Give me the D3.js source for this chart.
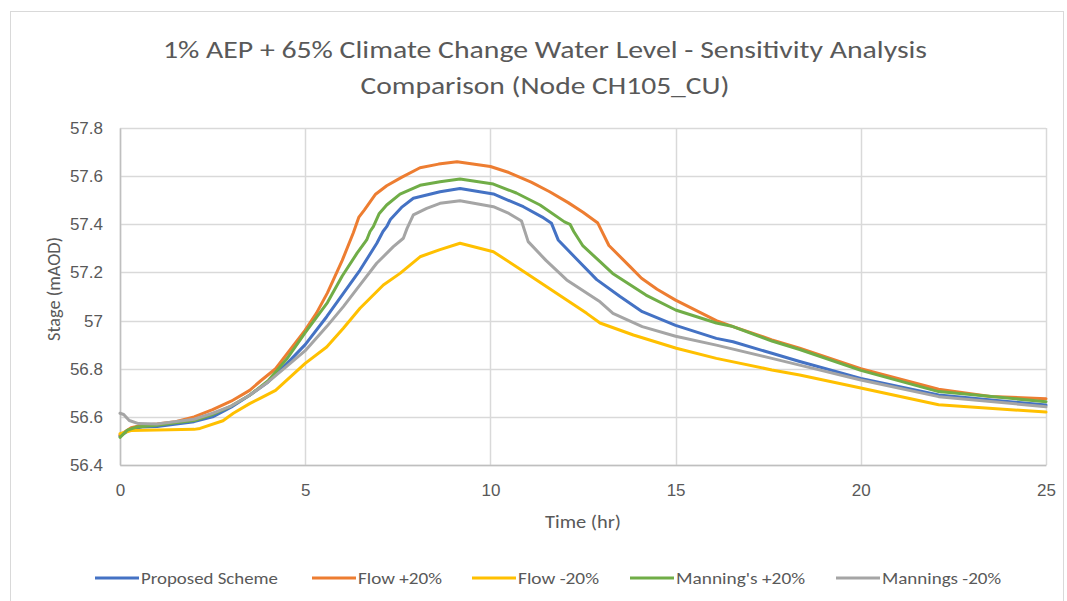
<!DOCTYPE html>
<html>
<head>
<meta charset="utf-8">
<script src="https://cdn.jsdelivr.net/npm/d3@7/dist/d3.min.js"></script>
<style>
  html, body { margin: 0; padding: 0; background: #fff; }
  svg { display: block; font-family: Carlito, Calibri, Lato, "Liberation Sans", sans-serif; }
</style>
</head>
<body>
<svg id="chart" width="1067" height="601"></svg>
<script>
// Stage hydrographs at node CH105_CU, 1% AEP + 65% climate change event.
const titleLines = ["1% AEP + 65% Climate Change Water Level - Sensitivity Analysis", "Comparison (Node CH105_CU)"];
const xTicks = [0, 5, 10, 15, 20, 25];
const yTicks = [56.4, 56.6, 56.8, 57, 57.2, 57.4, 57.6, 57.8];
const seriesNames = ["Proposed Scheme", "Flow +20%", "Flow -20%", "Manning's +20%", "Mannings -20%"];
const seriesColors = ["#4472C4", "#ED7D31", "#FFC000", "#70AD47", "#A5A5A5"];

// Proposed Scheme
const proposedHr    = [0, 0.3, 0.6, 1, 2, 2.5, 3, 3.5, 4, 4.5, 5, 5.58, 6.03, 6.48, 6.93, 7.1, 7.2, 7.3, 7.6, 7.92, 8.64, 9.18, 10.08, 10.89, 11.4, 11.65, 11.83, 12.3, 12.87, 13.5, 14.1, 15, 16.1, 16.55, 17.6, 18.35, 20, 22.1, 25];
const proposedStage = [56.52, 56.55, 56.558, 56.56, 56.58, 56.6, 56.64, 56.69, 56.745, 56.82, 56.9, 57.016, 57.113, 57.21, 57.32, 57.37, 57.39, 57.42, 57.47, 57.508, 57.535, 57.549, 57.526, 57.473, 57.43, 57.404, 57.335, 57.26, 57.17, 57.1, 57.037, 56.98, 56.926, 56.912, 56.864, 56.83, 56.76, 56.691, 56.649];

// Flow +20%
const flowUpHr    = [0, 0.3, 0.6, 1, 1.5, 2, 2.5, 3, 3.5, 3.8, 4.2, 4.6, 5, 5.3, 5.6, 6, 6.3, 6.45, 6.6, 6.9, 7.2, 7.6, 8.1, 8.6, 9.1, 10, 10.5, 11.1, 11.6, 12.1, 12.5, 12.9, 13.2, 13.77, 14.08, 14.5, 15, 16.1, 16.55, 17.6, 18.35, 20, 22.1, 23.5, 25];
const flowUpStage = [56.525, 56.555, 56.565, 56.57, 56.58, 56.6, 56.63, 56.665, 56.71, 56.75, 56.8, 56.88, 56.96, 57.03, 57.115, 57.25, 57.365, 57.43, 57.46, 57.525, 57.56, 57.595, 57.635, 57.65, 57.66, 57.64, 57.615, 57.575, 57.535, 57.49, 57.45, 57.405, 57.312, 57.224, 57.176, 57.13, 57.085, 57.0, 56.975, 56.92, 56.885, 56.8, 56.715, 56.685, 56.675];

// Flow -20%
const flowDownHr    = [0, 0.3, 1, 2, 2.16, 2.78, 3.06, 3.5, 3.78, 4.2, 5, 5.58, 6.03, 6.48, 7.11, 7.56, 8.1, 8.64, 9.18, 10.08, 10.98, 12.6, 12.96, 13.86, 15.02, 16.1, 17.6, 18.35, 20, 22.1, 25];
const flowDownStage = [56.53, 56.543, 56.545, 56.548, 56.552, 56.584, 56.615, 56.655, 56.677, 56.71, 56.822, 56.89, 56.968, 57.051, 57.148, 57.196, 57.265, 57.295, 57.321, 57.286, 57.196, 57.03, 56.99, 56.94, 56.885, 56.843, 56.795, 56.774, 56.72, 56.65, 56.62];

// Manning's +20%
const manningUpHr    = [0, 0.2, 0.45, 1, 1.5, 2, 2.5, 3, 3.5, 4, 4.5, 5, 5.6, 6, 6.4, 6.66, 6.75, 6.84, 7, 7.2, 7.56, 8.1, 8.64, 9.18, 10.08, 10.7, 11.34, 12, 12.15, 12.25, 12.5, 12.96, 13.3, 14.2, 15, 16.1, 16.55, 17.6, 18.35, 20, 22.1, 25];
const manningUpStage = [56.515, 56.545, 56.558, 56.565, 56.575, 56.585, 56.61, 56.645, 56.69, 56.75, 56.84, 56.95, 57.075, 57.185, 57.28, 57.335, 57.37, 57.39, 57.445, 57.48, 57.525, 57.562, 57.577, 57.588, 57.567, 57.53, 57.48, 57.41, 57.4, 57.37, 57.31, 57.245, 57.196, 57.106, 57.044, 56.99, 56.975, 56.915, 56.88, 56.793, 56.705, 56.663];

// Mannings -20%
const manningDownHr    = [0, 0.1, 0.25, 0.5, 1, 2, 2.5, 3, 3.5, 4, 4.5, 5, 5.58, 6.03, 6.48, 6.93, 7.38, 7.65, 7.75, 7.92, 8.28, 8.64, 9.18, 10.08, 10.5, 10.84, 11.02, 11.5, 12.06, 12.96, 13.31, 14.1, 15, 16.1, 17.6, 18.35, 20, 22.1, 25];
const manningDownStage = [56.615, 56.61, 56.585, 56.572, 56.57, 56.59, 56.615, 56.645, 56.69, 56.745, 56.81, 56.875, 56.975, 57.058, 57.148, 57.238, 57.307, 57.342, 57.383, 57.439, 57.466, 57.487, 57.498, 57.473, 57.445, 57.414, 57.328, 57.25, 57.169, 57.078, 57.03, 56.975, 56.935, 56.898, 56.843, 56.815, 56.753, 56.684, 56.642];

const seriesHr = [proposedHr, flowUpHr, flowDownHr, manningUpHr, manningDownHr];
const seriesStage = [proposedStage, flowUpStage, flowDownStage, manningUpStage, manningDownStage];

const svg = d3.select("#chart");
const textColor = "#595959";
const gridColor = "#D9D9D9";

// chart area frame
svg.append("rect")
  .attr("x", 10.5).attr("y", 11.5)
  .attr("width", 1053).attr("height", 620)
  .attr("fill", "none").attr("stroke", gridColor).attr("stroke-width", 1);

const plot = { left: 120, right: 1046, top: 128, bottom: 465 };
const x = d3.scaleLinear().domain([0, 25]).range([plot.left, plot.right]);
const y = d3.scaleLinear().domain([56.4, 57.8]).range([plot.bottom, plot.top]);

// gridlines
const grid = svg.append("g");
grid.selectAll("line.h").data(yTicks).join("line")
  .attr("x1", plot.left).attr("x2", plot.right)
  .attr("y1", d => Math.round(y(d)) + 0.5).attr("y2", d => Math.round(y(d)) + 0.5)
  .attr("stroke", gridColor).attr("stroke-width", 1.5);
grid.selectAll("line.v").data(xTicks).join("line")
  .attr("y1", plot.top).attr("y2", plot.bottom)
  .attr("x1", d => Math.round(x(d)) + 0.5).attr("x2", d => Math.round(x(d)) + 0.5)
  .attr("stroke", gridColor).attr("stroke-width", 1.5);

// axes
const xAxis = svg.append("g")
  .attr("transform", `translate(0,${plot.bottom})`)
  .call(d3.axisBottom(x).tickValues(xTicks).tickSize(0).tickPadding(19).tickFormat(d3.format("d")));
const yAxis = svg.append("g")
  .attr("transform", `translate(${plot.left},0)`)
  .call(d3.axisLeft(y).tickValues(yTicks).tickSize(0).tickPadding(17).tickFormat(d => d3.format("")(+d.toFixed(1))));
[xAxis, yAxis].forEach(g => {
  g.select(".domain").attr("stroke", "#BFBFBF").attr("stroke-width", 1.5);
  g.selectAll("text").attr("fill", textColor).attr("font-size", 17).attr("font-family", null);
});

// series lines
const line = d3.line().x(d => x(d[0])).y(d => y(d[1]));
seriesNames.forEach((name, i) => {
  const pts = seriesHr[i].map((t, j) => [t, seriesStage[i][j]]);
  svg.append("path")
    .datum(pts)
    .attr("d", line)
    .attr("fill", "none")
    .attr("stroke", seriesColors[i])
    .attr("stroke-width", 3)
    .attr("stroke-linejoin", "round")
    .attr("stroke-linecap", "round");
});

// title
const titleWidths = [764, 369];
titleLines.forEach((t, i) => {
  svg.append("text")
    .attr("x", 545).attr("y", 58 + i * 36)
    .attr("text-anchor", "middle")
    .attr("font-size", 25)
    .attr("fill", textColor)
    .attr("textLength", titleWidths[i])
    .attr("lengthAdjust", "spacingAndGlyphs")
    .text(t);
});

// axis titles
svg.append("text")
  .attr("x", 583).attr("y", 528)
  .attr("text-anchor", "middle").attr("font-size", 18).attr("fill", textColor)
  .attr("textLength", 76).attr("lengthAdjust", "spacingAndGlyphs")
  .text("Time (hr)");
svg.append("text")
  .attr("transform", "translate(60,289) rotate(-90)")
  .attr("text-anchor", "middle").attr("font-size", 18).attr("fill", textColor)
  .attr("textLength", 104).attr("lengthAdjust", "spacingAndGlyphs")
  .text("Stage (mAOD)");

// legend
const legendLineX = [95, 312, 472, 630, 836];
const legendTextW = [137, 84, 81, 129, 119];
const legend = svg.append("g").attr("transform", "translate(0,578)");
seriesNames.forEach((name, i) => {
  legend.append("line")
    .attr("x1", legendLineX[i]).attr("x2", legendLineX[i] + 44)
    .attr("y1", 0).attr("y2", 0)
    .attr("stroke", seriesColors[i]).attr("stroke-width", 3);
  legend.append("text")
    .attr("x", legendLineX[i] + 46).attr("y", 6)
    .attr("font-size", 17).attr("fill", textColor)
    .attr("textLength", legendTextW[i])
    .attr("lengthAdjust", "spacingAndGlyphs")
    .text(name);
});
</script>
</body>
</html>
